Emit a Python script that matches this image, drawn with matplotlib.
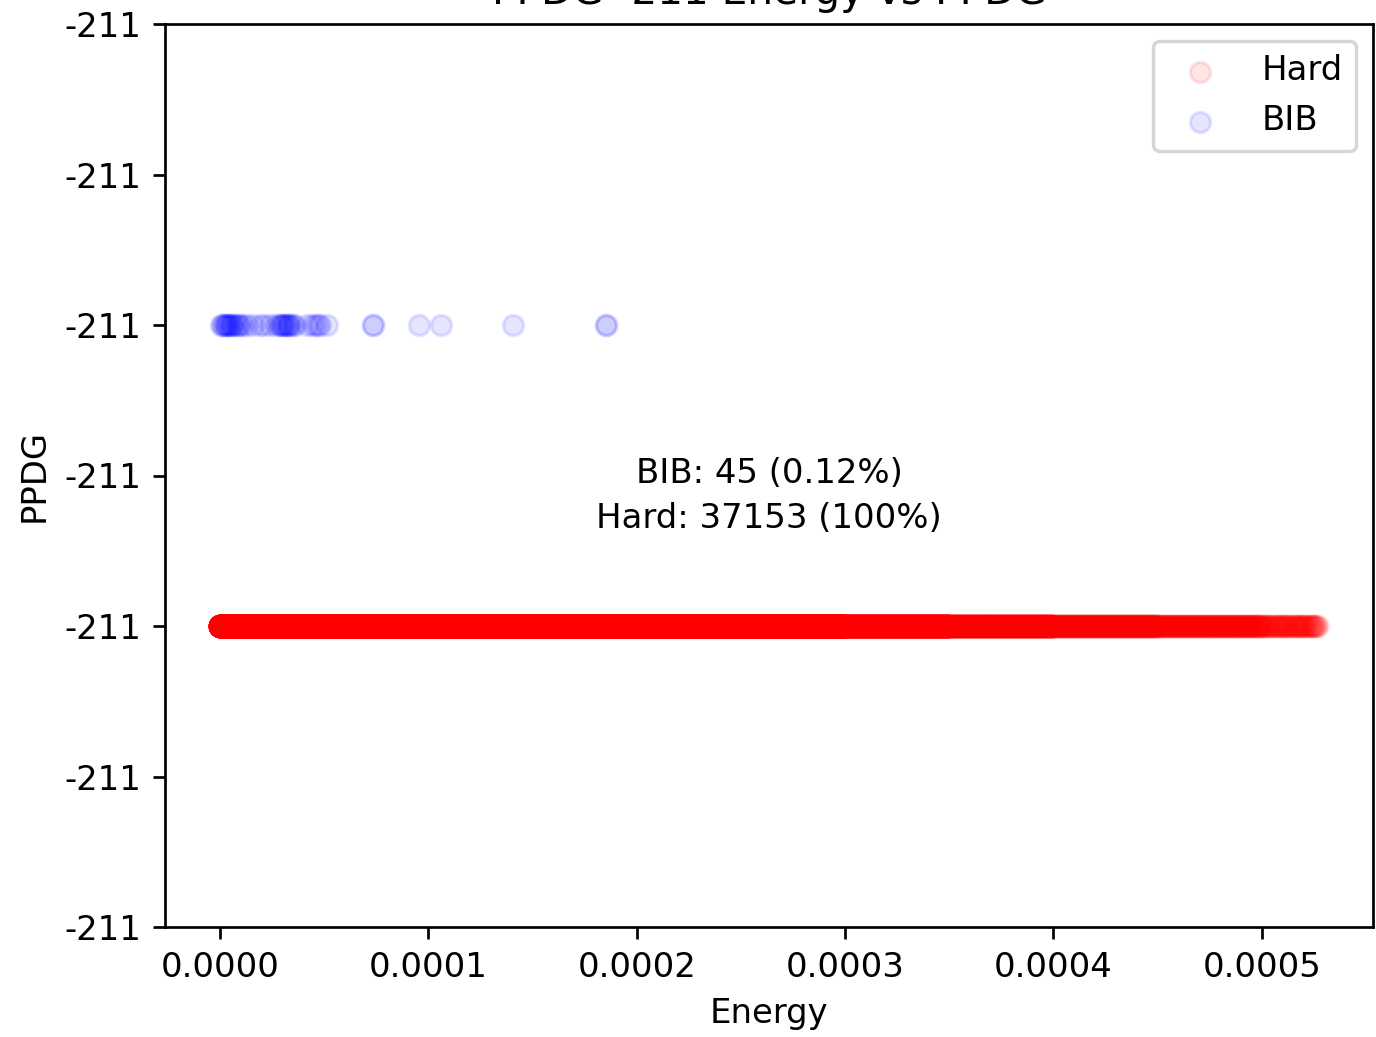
import numpy as np
import matplotlib
matplotlib.use("Agg")
import matplotlib.pyplot as plt
from matplotlib.ticker import FormatStrFormatter

# Hard-scatter pion energies, summarised as counts per energy bin
hard_edges = [0.0, 0.00005, 0.00010, 0.00015, 0.00020, 0.00025, 0.00030,
              0.00035, 0.00040, 0.00045, 0.00050, 0.000527]
hard_counts = [11500, 8200, 5800, 4200, 3000, 2100, 1300, 600, 250, 150, 53]

# BIB pion energies
bib_energy = [0.0000005, 0.000001, 0.0000018, 0.0000025, 0.000003, 0.0000035,
              0.000004, 0.0000048, 0.0000055, 0.000006, 0.000007, 0.000008,
              0.0000088, 0.0000095, 0.000011, 0.000013, 0.000016, 0.000019,
              0.000021, 0.000024, 0.000027, 0.0000285, 0.0000295, 0.00003,
              0.0000305, 0.000031, 0.0000318, 0.0000325, 0.000033, 0.0000338,
              0.000035, 0.000036, 0.000042, 0.000044, 0.0000455, 0.000047,
              0.000048, 0.0000515, 0.0000733, 0.0000735, 0.0000955, 0.000106,
              0.0001406, 0.0001851, 0.0001853]

# PDG levels as stored (float noise keeps them apart)
hard_pdg = -211.0
bib_pdg = -210.99998

n_bib = 45
n_hard = 37153

hard_energy = np.concatenate([
    np.linspace(lo, hi, n, endpoint=False)
    for lo, hi, n in zip(hard_edges[:-1], hard_edges[1:], hard_counts)
])
hard_energy[-1] = hard_edges[-1]

fig = plt.figure(figsize=(1376 / 244, 1037 / 244), dpi=244)
ax = fig.add_axes([165 / 1376, 110 / 1037, 1208 / 1376, 903 / 1037])

ax.scatter(hard_energy, np.full(len(hard_energy), hard_pdg), color='red', alpha=0.1, label='Hard')
ax.scatter(bib_energy, np.full(len(bib_energy), bib_pdg), color='blue', alpha=0.1, label='BIB')

step = (bib_pdg - hard_pdg) / 2
ax.set_ylim(hard_pdg - 2 * step, hard_pdg + 4 * step)
ax.set_yticks([hard_pdg + k * step for k in range(-2, 5)])
ax.yaxis.set_major_formatter(FormatStrFormatter('%.0f'))
ax.xaxis.set_major_formatter(FormatStrFormatter('%.4f'))

ax.set_title('PPDG -211 Energy vs PPDG')
ax.set_xlabel('Energy')
ax.set_ylabel('PPDG')
ax.legend(loc='upper right')

ax.text(0.5, 0.477,
        'BIB: %d (%.2f%%)\nHard: %d (100%%)' % (n_bib, 100 * n_bib / n_hard, n_hard),
        transform=ax.transAxes, ha='center', va='center', multialignment='center',
        linespacing=1.45)

fig.savefig('out.png', dpi=244)
